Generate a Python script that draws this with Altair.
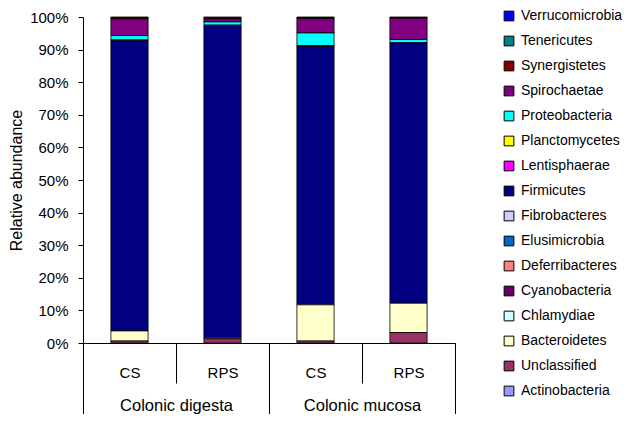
import altair as alt
import pandas as pd

phyla = ["Verrucomicrobia", "Tenericutes", "Synergistetes", "Spirochaetae",
         "Proteobacteria", "Planctomycetes", "Lentisphaerae", "Firmicutes",
         "Fibrobacteres", "Elusimicrobia", "Deferribacteres", "Cyanobacteria",
         "Chlamydiae", "Bacteroidetes", "Unclassified", "Actinobacteria"]
colors = ["#0000FF", "#008080", "#800000", "#800080", "#00FFFF", "#FFFF00",
          "#FF00FF", "#000080", "#CCCCFF", "#0066CC", "#FF8080", "#660066",
          "#CCFFFF", "#FFFFCC", "#993366", "#9999FF"]

groups = ["Colonic digesta", "Colonic digesta", "Colonic mucosa", "Colonic mucosa"]
treatments = ["CS", "RPS", "CS", "RPS"]

# percentages per bar, in phyla order (legend order, top to bottom)
cs_digesta = [0.3, 0, 0.3, 5.1, 1.3, 0.2, 0.2, 88.9, 0, 0, 0, 0, 0, 3.1, 0.6, 0]
rps_digesta = [0, 0.3, 0.3, 0.9, 1.0, 0, 0, 95.9, 0, 0, 0, 0, 0, 0.3, 1.3, 0]
cs_mucosa = [0.2, 0, 0.3, 4.4, 3.9, 0.1, 0.2, 79.2, 0, 0, 0, 0, 0, 11.1, 0.6, 0]
rps_mucosa = [0.2, 0, 0.2, 6.5, 1.0, 0, 0.2, 79.7, 0, 0, 0, 0, 0, 9.0, 3.2, 0]
series = [cs_digesta, rps_digesta, cs_mucosa, rps_mucosa]

bar_ids = [f"{g}|{t}" for g, t in zip(groups, treatments)]
rows = []
for bid, vals in zip(bar_ids, series):
    for i, (p, v) in enumerate(zip(phyla, vals)):
        if v > 0:
            rows.append({"bar": bid, "phylum": p, "value": v / 100.0,
                         "rank": len(phyla) - 1 - i})
df = pd.DataFrame(rows)
group_names = ["Colonic digesta", "Colonic mucosa"]
gdf = pd.DataFrame({"group": group_names})

FONT = "Liberation Sans"

bars = alt.Chart(df).mark_bar(
    width=alt.RelativeBandSize(0.4), stroke="black", strokeWidth=0.8
).encode(
    x=alt.X("bar:N", sort=bar_ids,
            scale=alt.Scale(paddingInner=0, paddingOuter=0),
            axis=alt.Axis(title=None, orient="bottom",
                          labelExpr="split(datum.label, '|')[1]",
                          tickBand="extent", tickSize=40, labelPadding=-18,
                          labelAngle=0, labelFontSize=15, labelFont=FONT,
                          labelColor="black", domainColor="black",
                          tickColor="black")),
    y=alt.Y("value:Q", stack="zero",
            scale=alt.Scale(domain=[0, 1], nice=False),
            axis=alt.Axis(format=".0%", values=[i / 10 for i in range(11)],
                          title="Relative abundance", titleFontSize=16,
                          titleFont=FONT, titleFontWeight="normal",
                          titleColor="black", titlePadding=5,
                          labelFontSize=15, labelFont=FONT, labelColor="black",
                          labelPadding=10, tickSize=5, domainColor="black",
                          tickColor="black")),
    color=alt.Color("phylum:N",
                    scale=alt.Scale(domain=phyla, range=colors),
                    legend=alt.Legend(title=None, orient="none", legendX=419,
                                      legendY=-8, padding=0, symbolType="square",
                                      symbolSize=95, symbolStrokeColor="black",
                                      symbolStrokeWidth=1, symbolOpacity=1,
                                      labelFontSize=14, labelFont=FONT,
                                      labelColor="black", rowPadding=11,
                                      labelOffset=5)),
    order=alt.Order("rank:Q", sort="ascending"),
)

group_axis = alt.Chart(gdf).mark_rule(opacity=0).encode(
    x=alt.X("group:N", sort=group_names,
            scale=alt.Scale(paddingInner=0, paddingOuter=0),
            axis=alt.Axis(title=None, orient="bottom", tickBand="extent",
                          tickSize=77, labelPadding=-23, domain=False,
                          labelAngle=0, labelFontSize=16.5, labelFont=FONT,
                          labelColor="black", tickColor="black")),
)

chart = alt.layer(bars, group_axis).resolve_scale(x="independent").properties(
    width=372, height=326,
    autosize=alt.AutoSizeParams(type="none"),
    padding={"left": 75, "top": 9, "right": 167, "bottom": 71},
).configure_view(stroke=None).configure_axis(grid=False)

chart.save("out.html", embed_options={"renderer": "svg", "actions": False})
